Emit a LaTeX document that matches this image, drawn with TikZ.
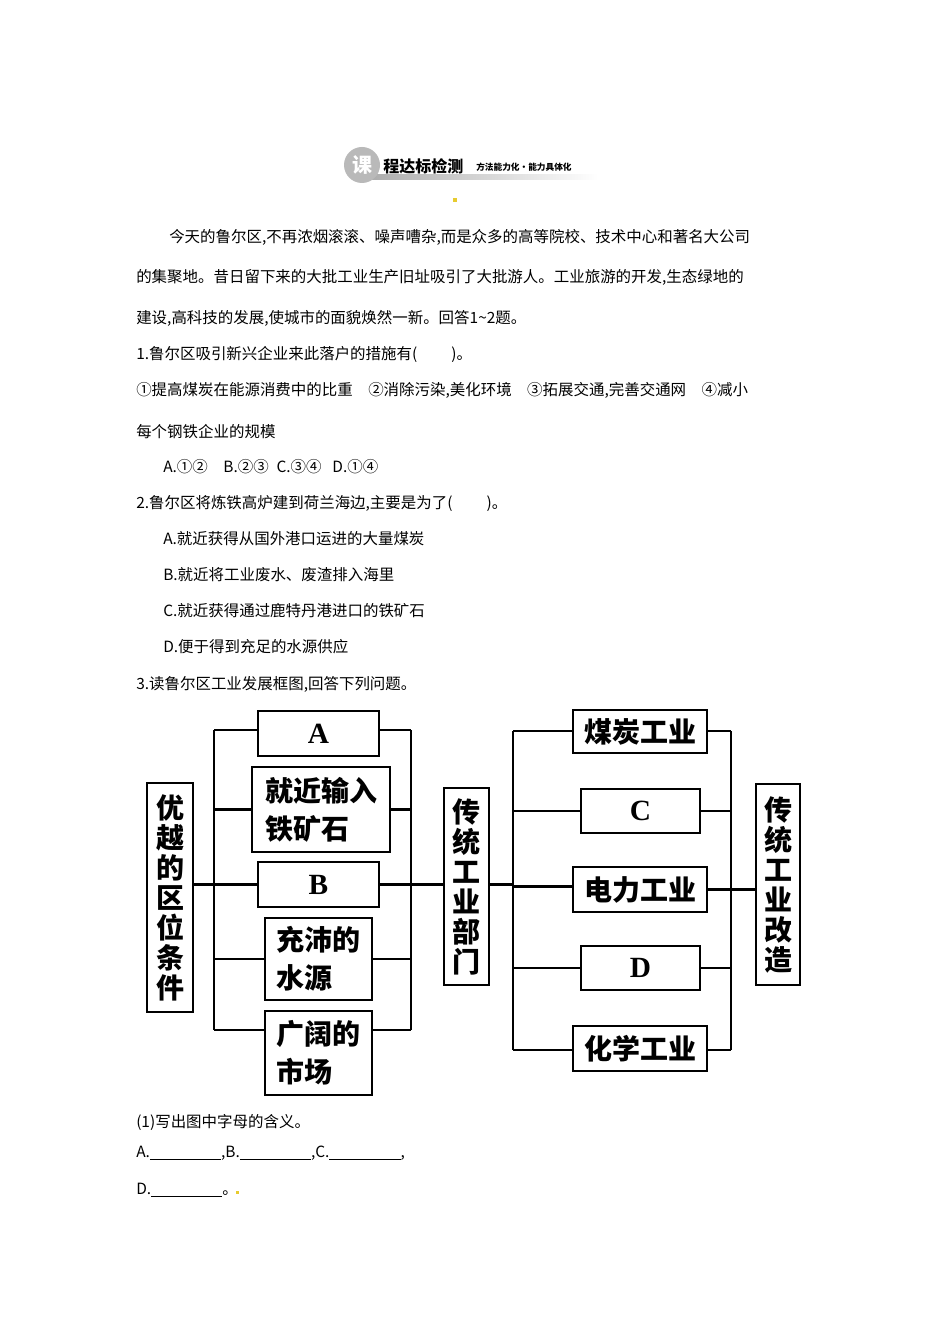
\documentclass[tikz,border=0pt]{standalone}
\usepackage{fontspec}
\setmainfont{Noto Sans CJK SC}
\newfontfamily\cjk{Noto Sans CJK SC}
\newfontfamily\latinb{Liberation Serif}
\begin{document}
\begin{tikzpicture}[x=0.75pt,y=-0.75pt,
  txt/.style={anchor=west,inner sep=0pt,font=\fontsize{11.6}{14}\selectfont},
  box/.style={draw,line width=1.6pt,inner sep=0pt,font=\cjk\bfseries\fontsize{21}{28.5}\selectfont},
  lbox/.style={box,font=\latinb\bfseries\fontsize{22}{26}\selectfont},
  vbox/.style={box,align=center,font=\cjk\bfseries\fontsize{21}{22.5}\selectfont},
  conn/.style={line width=1.9pt},
  thin/.style={line width=1.2pt}]
\useasboundingbox (0,0) rectangle (950,1344);
\fill[white] (0,0) rectangle (950,1344);
% header
\shade[left color=gray!70,right color=white] (352,175) rectangle (598,180);
\node[circle,fill=gray!55,minimum size=27pt,inner sep=0pt,text=white,font=\cjk\bfseries\fontsize{15}{15}\selectfont] (hc) at (362,165) {课};
\node[anchor=west,inner sep=0pt,font=\cjk\bfseries\fontsize{12}{12}\selectfont] (ht) at (383,166) {程达标检测};
\node[anchor=west,inner sep=0pt,font=\cjk\bfseries\fontsize{6.5}{7}\selectfont] (hs) at (476,167) {方法能力化·能力具体化};
\fill[yellow!60!brown] (453,198) rectangle (457,202);
% text
\node[txt] (t1) at (169,237) {今天的鲁尔区,不再浓烟滚滚、噪声嘈杂,而是众多的高等院校、技术中心和著名大公司};
\node[txt] (t2) at (136,277) {的集聚地。昔日留下来的大批工业生产旧址吸引了大批游人。工业旅游的开发,生态绿地的};
\node[txt] (t3) at (136,318) {建设,高科技的发展,使城市的面貌焕然一新。回答1\textasciitilde2题。};
\node[txt] (t4) at (136,354) {1.鲁尔区吸引新兴企业来此落户的措施有(\hspace{2.2em})。};
\node[txt] (t5) at (136,390) {①提高煤炭在能源消费中的比重\hspace{1em}②消除污染,美化环境\hspace{1em}③拓展交通,完善交通网\hspace{1em}④减小};
\node[txt] (t6) at (136,432) {每个钢铁企业的规模};
\node[txt] (t7) at (163,467) {A.①②\hspace{1em}B.②③\hspace{0.5em}C.③④\hspace{0.7em}D.①④};
\node[txt] (t8) at (136,503) {2.鲁尔区将炼铁高炉建到荷兰海边,主要是为了(\hspace{2.2em})。};
\node[txt] (t9) at (163,539) {A.就近获得从国外港口运进的大量煤炭};
\node[txt] (t10) at (163,575) {B.就近将工业废水、废渣排入海里};
\node[txt] (t11) at (163,611) {C.就近获得通过鹿特丹港进口的铁矿石};
\node[txt] (t12) at (163,647) {D.便于得到充足的水源供应};
\node[txt] (t13) at (136,684) {3.读鲁尔区工业发展框图,回答下列问题。};
\node[txt] (t14) at (136,1122) {(1)写出图中字母的含义。};
\node[txt] (t15) at (136,1153) {A.\rule[-1.5pt]{4.6em}{0.5pt},B.\rule[-1.5pt]{4.6em}{0.5pt},C.\rule[-1.5pt]{4.6em}{0.5pt},};
\node[txt] (t16) at (136,1190) {D.\rule[-1.5pt]{4.6em}{0.5pt}。};
\fill[yellow!60!brown] (236,1191) rectangle (239,1194);
% diagram nodes
\node[vbox,minimum width=46*0.75pt,minimum height=229*0.75pt] (L) at (170,897.5) {优\\越\\的\\区\\位\\条\\件};
\node[lbox,minimum width=121*0.75pt,minimum height=45*0.75pt] (A) at (318.5,733.5) {A};
\node[box,align=left,minimum width=138*0.75pt,minimum height=85*0.75pt] (I) at (321,809.5) {就近输入\\铁矿石};
\node[lbox,minimum width=121*0.75pt,minimum height=45*0.75pt] (B) at (318.5,884.5) {B};
\node[box,align=left,minimum width=107*0.75pt,minimum height=82*0.75pt] (W) at (318.5,959) {充沛的\\水源};
\node[box,align=left,minimum width=107*0.75pt,minimum height=84*0.75pt] (M) at (318.5,1053) {广阔的\\市场};
\node[vbox,minimum width=45*0.75pt,minimum height=197*0.75pt] (T) at (466.5,886.5) {传\\统\\工\\业\\部\\门};
\node[box,minimum width=134*0.75pt,minimum height=43*0.75pt] (R1) at (640,731.5) {煤炭工业};
\node[lbox,minimum width=119*0.75pt,minimum height=44*0.75pt] (R2) at (640.5,811) {C};
\node[box,minimum width=134*0.75pt,minimum height=45*0.75pt] (R3) at (640,889.5) {电力工业};
\node[lbox,minimum width=119*0.75pt,minimum height=44*0.75pt] (R4) at (640.5,968) {D};
\node[box,minimum width=134*0.75pt,minimum height=45*0.75pt] (R5) at (640,1048.5) {化学工业};
\node[vbox,minimum width=44*0.75pt,minimum height=201*0.75pt] (G) at (778,884.5) {传\\统\\工\\业\\改\\造};
% buses
\coordinate (lt) at (214,730); \coordinate (lb) at (214,1030);
\coordinate (rt) at (411,730); \coordinate (rb) at (411,1030);
\coordinate (qt) at (513,731); \coordinate (qb) at (513,1050);
\coordinate (st) at (731,731); \coordinate (sb) at (731,1050);
\draw[conn] (lt) -- (lb); \draw[conn] (rt) -- (rb);
\draw[conn] (qt) -- (qb); \draw[conn] (st) -- (sb);
\draw[conn] (A.west |- lt) -- (lt); \draw[conn] (A.east |- rt) -- (rt);
\draw[conn] (I.west) -- (I.west -| lt); \draw[conn] (I.east) -- (I.east -| rt);
\draw[conn] (L.east |- B.west) -- (B.west); \draw[conn] (B.east) -- (T.west |- B.east);
\draw[thin] (W.west) -- (W.west -| lt); \draw[thin] (W.east) -- (W.east -| rt);
\draw[conn] (M.west |- lb) -- (lb); \draw[conn] (M.east |- rb) -- (rb);
\draw[conn] (T.east |- B.east) -- (qt |- B.east);
\draw[conn] (R1.west |- qt) -- (qt); \draw[conn] (R1.east |- st) -- (st);
\draw[conn] (R2.west) -- (R2.west -| qt); \draw[conn] (R2.east) -- (R2.east -| st);
\draw[conn] (R3.west |- T.east) -- (qt |- T.east);
\draw[conn] (R3.east) -- (G.west |- R3.east);
\draw[conn] (R4.west) -- (R4.west -| qt); \draw[conn] (R4.east) -- (R4.east -| st);
\draw[conn] (R5.west |- qb) -- (qb); \draw[conn] (R5.east |- sb) -- (sb);
\end{tikzpicture}
\end{document}
